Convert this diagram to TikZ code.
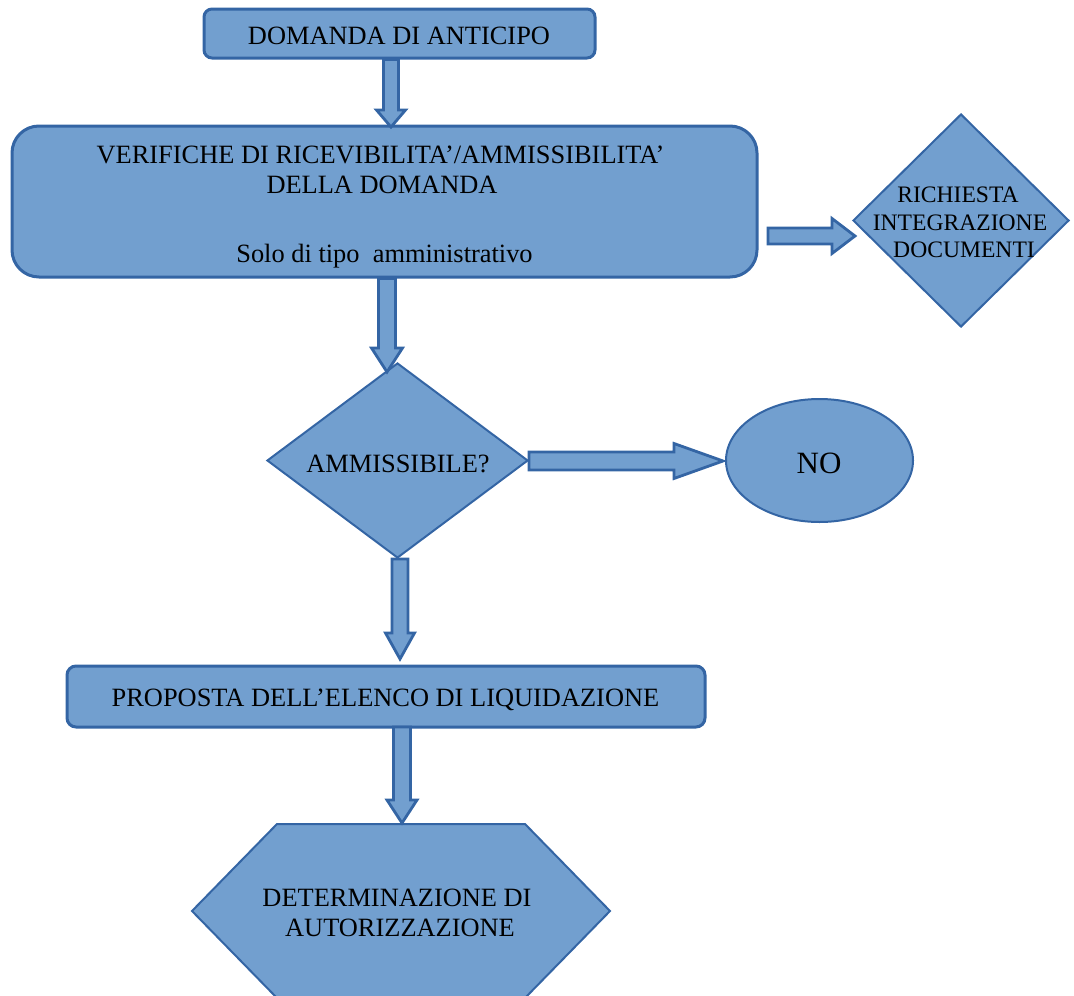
\documentclass[tikz,border=0pt]{standalone}
\usepackage{fontspec}
\setmainfont{Liberation Serif}
\usetikzlibrary{shapes.geometric,calc}
\definecolor{fillb}{HTML}{729FCF}
\definecolor{lineb}{HTML}{3465A4}
% #1 start (top), #2 tip, #3 shaft half width, #4 head half width, #5 head length
\newcommand\vblock[5]{%
  \draw[barrow] let \p1=(#1), \p2=(#2) in
   (\x2-#3,\y1) -- (\x2-#3,\y2+#5) -- (\x2-#4,\y2+#5) -- (\x2,\y2)
   -- (\x2+#4,\y2+#5) -- (\x2+#3,\y2+#5) -- (\x2+#3,\y1) -- cycle;}
\newcommand\hblock[5]{%
  \draw[barrow] let \p1=(#1), \p2=(#2) in
   (\x1,\y2+#3) -- (\x2-#5,\y2+#3) -- (\x2-#5,\y2+#4) -- (\x2,\y2)
   -- (\x2-#5,\y2-#4) -- (\x2-#5,\y2-#3) -- (\x1,\y2-#3) -- cycle;}
\begin{document}
\begin{tikzpicture}[x=1pt,y=-1pt,
  box/.style={draw=lineb, fill=fillb, line width=3pt, inner sep=0pt},
  shp/.style={draw=lineb, fill=fillb, line width=2pt, inner sep=0pt},
  barrow/.style={draw=lineb, fill=fillb, line width=2.8pt, line join=miter},
  txt/.style={font=\fontsize{26.4}{30}\selectfont, text=black, inner sep=0pt, anchor=base},
  stxt/.style={font=\fontsize{23.6}{27}\selectfont, text=black, inner sep=0pt, anchor=base},
  btxt/.style={font=\fontsize{31}{36}\selectfont, text=black, inner sep=0pt, anchor=base}]
\useasboundingbox (0,0) rectangle (1074,996);

% boxes and shapes
\node[box, rounded corners=8pt, minimum width=391pt, minimum height=49pt] (b1) at (399.5,33.5) {};
\node[txt] (t1) at (399,44) {DOMANDA DI ANTICIPO};

\node[box, rounded corners=27pt, minimum width=745pt, minimum height=151pt] (b2) at (384.5,201.5) {};
\node[txt] (t2a) at (380.5,163) {VERIFICHE DI RICEVIBILITA’/AMMISSIBILITA’};
\node[txt] (t2b) at (382,193) {DELLA DOMANDA};
\node[txt] (t2c) at (384.5,262) {Solo di tipo\ \ amministrativo};

\node[shp, diamond, minimum width=216pt, minimum height=213pt] (d1) at (961,220.5) {};
\node[stxt] (t3a) at (958,202) {RICHIESTA};
\node[stxt] (t3b) at (960,230) {INTEGRAZIONE};
\node[stxt] (t3c) at (964,257) {DOCUMENTI};

\node[shp, diamond, minimum width=261pt, minimum height=195pt] (d2) at (397.5,460.5) {};
\node[txt] (t4) at (398,472) {AMMISSIBILE?};

\node[shp, ellipse, minimum width=187pt, minimum height=123pt] (e1) at (819.5,460.5) {};
\node[btxt] (t5) at (819,473) {NO};

\node[box, rounded corners=9pt, minimum width=638pt, minimum height=61pt] (b3) at (386,696.5) {};
\node[txt] (t6) at (385.5,706) {PROPOSTA DELL’ELENCO DI LIQUIDAZIONE};

\draw[shp] (277,824) -- (525,824) -- (610,911) -- (525,998) -- (277,998) -- (192,911) -- cycle;
\node[txt] (t7a) at (397,906) {DETERMINAZIONE DI};
\node[txt] (t7b) at (400,936) {AUTORIZZAZIONE};

% arrow tips and free ends
\coordinate (a1) at (391,127);
\coordinate (a2) at (387,372);
\coordinate (a4) at (400,659);
\coordinate (a5top) at (401,727);
\coordinate (a5) at (402,823);
\coordinate (r1s) at (768,236);
\coordinate (r1) at (855,236);
\coordinate (r2) at (723,461);
\coordinate (a4top) at (400,559);

% block arrows
\vblock{b1.south}{a1}{7.5pt}{14.5pt}{17pt}
\vblock{b2.south}{a2}{8.5pt}{15.5pt}{24pt}
\vblock{a4top}{a4}{8pt}{14.5pt}{26pt}
\vblock{a5top}{a5}{8.5pt}{15pt}{23pt}
\hblock{r1s}{r1}{8pt}{17.5pt}{23pt}
\hblock{d2.east}{r2}{9pt}{17.5pt}{49pt}
\end{tikzpicture}
\end{document}
